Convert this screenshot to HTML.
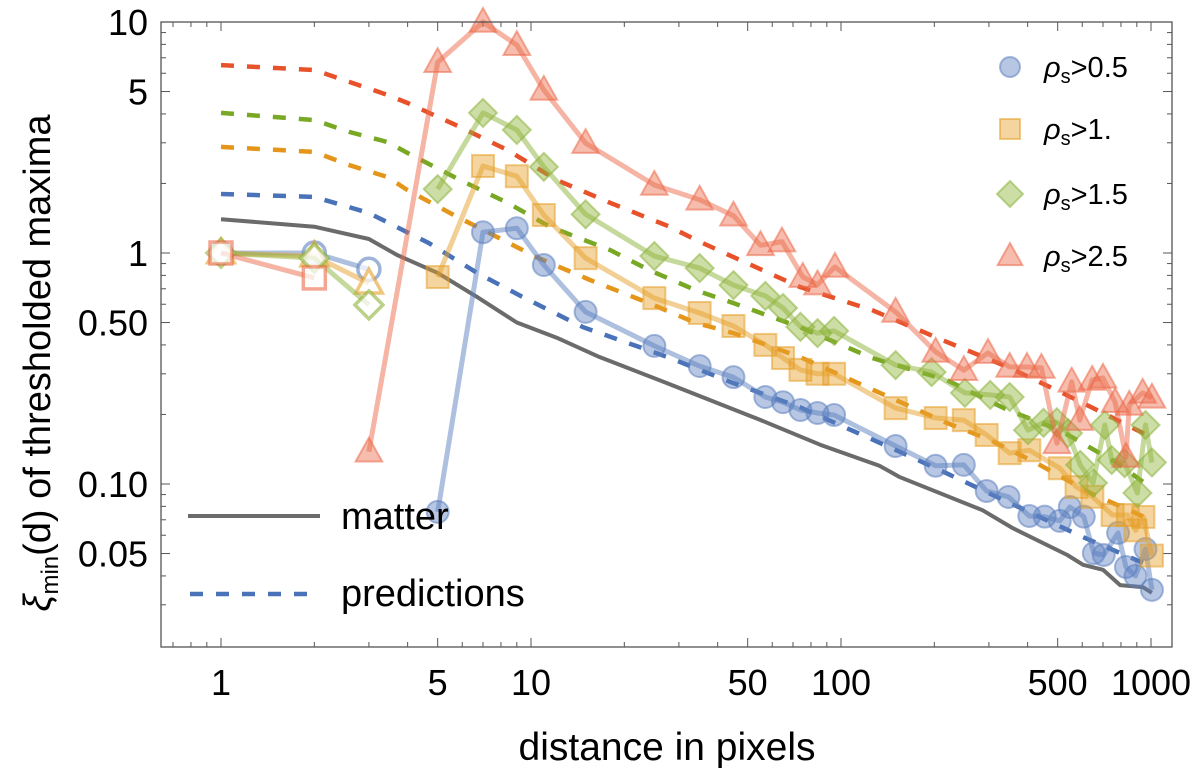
<!DOCTYPE html>
<html><head><meta charset="utf-8"><style>
html,body{margin:0;padding:0;background:#fff;}
svg{display:block;font-family:"Liberation Sans",sans-serif;}
</style></head><body>
<svg id="chart" width="1200" height="775" viewBox="0 0 1200 775" xmlns="http://www.w3.org/2000/svg">
<g id="grid-ticks"></g>
<g id="plot"></g>
<g id="axes"></g>
<text x="667" y="760" font-size="39" text-anchor="middle">distance in pixels</text>
<text transform="translate(50,363) rotate(-90)" font-size="38" text-anchor="middle"><tspan font-style="italic">ξ</tspan><tspan font-size="24" dy="8">min</tspan><tspan dy="-8">(d) of thresholded maxima</tspan></text>
<g id="legend"></g>
</svg>
<script>
// ---- data ----
const matterD = [1,2,3,3.7,5,6.7,9,12.1,16.6,27.5,54.6,85.6,133,155,286,358,537,604,700,795,940,1007];
const matterV = [1.40,1.30,1.15,0.98,0.82,0.645,0.50,0.43,0.355,0.273,0.19,0.148,0.12,0.107,0.077,0.0644,0.0493,0.0447,0.0425,0.0365,0.0358,0.0338];

const predBlueD = [1,2,3,4.7,6.7,9.4,14.7,27.5,45,73.6,144,208,345,604,940,1000];
const predBlueV = [1.8,1.75,1.49,1.1,0.82,0.645,0.478,0.355,0.273,0.215,0.144,0.115,0.0836,0.0589,0.0456,0.044];
const predOrangeD = [1,2,2.6,3.45,4,5.8,7.8,10.4,15.5,24,34,45,73.6,158,219,303,428,636,995];
const predOrangeV = [2.88,2.74,2.4,2.13,1.87,1.43,1.17,0.96,0.764,0.607,0.498,0.45,0.355,0.224,0.184,0.155,0.123,0.0915,0.0701];
const predGreenD = [1,2,2.6,3.45,4,5.9,8.4,11.5,18,24,34,45,73.6,126,219,345,508,778,995];
const predGreenV = [4.04,3.76,3.34,3.02,2.71,2.07,1.65,1.30,1.03,0.844,0.69,0.607,0.478,0.351,0.282,0.209,0.171,0.123,0.097];
const predRedD = [1,2,2.6,3.45,4,5.9,8.4,12.1,18,28,34,45,73.6,126,212,345,517,700,995];
const predRedV = [6.51,6.2,5.5,4.83,4.46,3.51,2.79,2.07,1.65,1.30,1.14,0.96,0.713,0.566,0.42,0.321,0.248,0.203,0.16];

const openD = [1,2,3];
const openBlueV = [1.0,1.0,0.85];
const openOrangeV = [1.0,0.97,0.74];
const openGreenV = [1.0,0.95,0.596];
const openRedD = [1,2];
const openRedV = [1.0,0.78];

const blueD = [5,7,9,11,15,25,35,45,57,65,74,84,95,150,202,249,295,347,405,454,508,547,607,654,704,783,830,891,960,1007];
const blueV = [0.0757,1.23,1.28,0.887,0.556,0.396,0.324,0.29,0.238,0.226,0.209,0.203,0.199,0.146,0.12,0.121,0.0933,0.0879,0.0727,0.0722,0.0692,0.0795,0.0722,0.0502,0.0493,0.0614,0.0437,0.040,0.0523,0.0348];
const orangeD = [5,7,9,11,15,25,35,45,57,65,74,84,95,150,202,249,295,350,405,508,575,647,752,842,891,945,1007];
const orangeV = [0.787,2.38,2.15,1.46,0.95,0.638,0.55,0.483,0.40,0.351,0.312,0.30,0.30,0.213,0.193,0.189,0.163,0.136,0.14,0.117,0.097,0.088,0.0734,0.0734,0.063,0.072,0.049];
const greenD = [5,7,9,11,15,25,35,45,57,65,74,84,95,150,196,251,303,350,401,450,497,540,591,650,710,747,822,904,960,1007];
const greenV = [1.89,4.04,3.41,2.36,1.47,0.97,0.86,0.726,0.652,0.578,0.479,0.45,0.46,0.327,0.305,0.248,0.243,0.238,0.171,0.184,0.185,0.166,0.121,0.101,0.18,0.127,0.123,0.0914,0.18,0.124];
const redD = [3,5,7,9,11,15,25,35,45,55,64.5,75.3,84,95.6,150,202,249,298,350,398,443,497,555,589,646,700,766,830,851,940,1007];
const redV = [0.138,6.7,10.0,7.94,5.08,2.99,1.97,1.70,1.45,1.08,1.12,0.787,0.73,0.87,0.556,0.373,0.311,0.369,0.321,0.321,0.318,0.15,0.277,0.189,0.282,0.288,0.226,0.131,0.22,0.248,0.236];

const xTickVals = [1,5,10,50,100,500,1000];
const xTickLabels = ["1","5","10","50","100","500","1000"];
const yTickVals = [10,5,1,0.5,0.1,0.05];
const yTickLabels = ["10","5","1","0.50","0.10","0.05"];

// ---- scales ----
const L=161,R=1172,T=22,B=647;
function X(d){return 221+310*Math.log10(d);}
function Y(v){return 253-231*Math.log10(v);}
const NS="http://www.w3.org/2000/svg";
function mk(tag,attrs,parent){const e=document.createElementNS(NS,tag);for(const k in attrs)e.setAttribute(k,attrs[k]);parent.appendChild(e);return e;}

const ticks=document.getElementById('grid-ticks');
const axes=document.getElementById('axes');
const plot=document.getElementById('plot');
const legend=document.getElementById('legend');

const fr=mk('rect',{x:L,y:T,width:R-L,height:B-T,fill:'none',stroke:'#555','stroke-width':1.3},axes);



for(let e=-1;e<=3;e++){for(let m=1;m<10;m++){const d=m*Math.pow(10,e);const x=X(d);if(x<L+2||x>R-2)continue;const len=(m===1||m===5)?9:5;
  const t1=mk('line',{x1:x,x2:x,y1:B,y2:B-len,stroke:'#555','stroke-width':1},ticks);
  
  
  const t2=mk('line',{x1:x,x2:x,y1:T,y2:T+len,stroke:'#555','stroke-width':1},ticks);
  
  }}
for(let e=-2;e<=1;e++){for(let m=1;m<10;m++){const v=m*Math.pow(10,e);const y=Y(v);if(y<T-1||y>B-2)continue;const len=(m===1||m===5)?9:5;
  const t1=mk('line',{x1:L,x2:L+len,y1:y,y2:y,stroke:'#555','stroke-width':1},ticks);
  
  
  const t2=mk('line',{x1:R,x2:R-len,y1:y,y2:y,stroke:'#555','stroke-width':1},ticks);
  
  }}
xTickVals.forEach((v,i)=>{const t=mk('text',{x:X(v),y:695,'font-size':36,'text-anchor':'middle'},axes);t.textContent=xTickLabels[i];
  
  });
yTickVals.forEach((v,i)=>{const t=mk('text',{x:148,y:Y(v)+13,'font-size':36,'text-anchor':'end'},axes);t.textContent=yTickLabels[i];
  
  });

function pathOf(ds,vs){return ds.map((d,i)=>(i?'L':'M')+X(d).toFixed(1)+','+Y(vs[i]).toFixed(1)).join(' ');}

const mp=mk('path',{d:pathOf(matterD,matterV),fill:'none',stroke:'#6b6b6b','stroke-width':4,'stroke-linejoin':'round'},plot);



[[predBlueD,predBlueV,'#4a72b8','prediction-0.5'],[predOrangeD,predOrangeV,'#e4961a','prediction-1'],[predGreenD,predGreenV,'#79a824','prediction-1.5'],[predRedD,predRedV,'#e8522a','prediction-2.5']].forEach(s=>{
  const p=mk('path',{d:pathOf(s[0],s[1]),fill:'none',stroke:s[2],'stroke-width':4.5,'stroke-dasharray':'13,13'},plot);
  
  });

function marker(shape,x,y,col,filled,parent,sz){
  const fill=filled?col:'#fff',fo=filled?0.45:0.7;
  let e;
  if(shape==='circle') e=mk('circle',{cx:x,cy:y,r:sz||11},parent);
  else if(shape==='square'){const s=sz||11;e=mk('rect',{x:x-s,y:y-s,width:2*s,height:2*s},parent);}
  else if(shape==='diamond'){const s=sz||14;e=mk('polygon',{points:`${x},${y-s} ${x+s},${y} ${x},${y+s} ${x-s},${y}`},parent);}
  else {const s=sz||14;e=mk('polygon',{points:`${x},${y-s} ${x+s*0.95},${y+s*0.7} ${x-s*0.95},${y+s*0.7}`},parent);}
  e.setAttribute('fill',fill);e.setAttribute('fill-opacity',fo);e.setAttribute('stroke',col);e.setAttribute('stroke-opacity',filled?0.55:0.6);e.setAttribute('stroke-width',filled?2:3.5);
  return e;
}
function series(ds,vs,col,shape,filled,name){
  const g=mk('g',{},plot);
  
  
  mk('path',{d:pathOf(ds,vs),fill:'none',stroke:col,'stroke-opacity':0.5,'stroke-width':5,'stroke-linejoin':'round'},g);
  ds.forEach((d,i)=>{const m=marker(shape,X(d),Y(vs[i]),col,filled,g);
    
    });
}
const cB='#5e81c0',cO='#e6a02a',cG='#8db33a',cR='#ec6a4a';
series(openD,openBlueV,cB,'circle',false,'open-series-0.5');
series(openD,openOrangeV,cO,'triangle',false,'open-series-1');
series(openD,openGreenV,cG,'diamond',false,'open-series-1.5');
series(openRedD,openRedV,cR,'square',false,'open-series-2.5');
series(blueD,blueV,cB,'circle',true,'series-0.5');
series(orangeD,orangeV,cO,'square',true,'series-1');
series(greenD,greenV,cG,'diamond',true,'series-1.5');
series(redD,redV,cR,'triangle',true,'series-2.5');

const items=[['circle',cB,'0.5',67],['square',cO,'1.',129],['diamond',cG,'1.5',194],['triangle',cR,'2.5',256]];
items.forEach(it=>{const g=mk('g',{},legend);
  
  
  marker(it[0],1010,it[3],it[1],true,g,it[0]==='circle'?10:(it[0]==='square'?10:13));
  const t=mk('text',{x:1044,y:it[3]+10,'font-size':29},g);
  t.innerHTML='<tspan font-style="italic">ρ</tspan><tspan font-size="20" dy="6">s</tspan><tspan dy="-6">&gt;'+it[2]+'</tspan>';});
const g1=mk('g',{},legend);


mk('line',{x1:188,x2:320,y1:516,y2:516,stroke:'#6b6b6b','stroke-width':4},g1);
const mt=mk('text',{x:341,y:529,'font-size':38},g1);mt.textContent='matter';
const g2=mk('g',{},legend);


mk('line',{x1:190,x2:320,y1:594,y2:594,stroke:'#4a72b8','stroke-width':4.5,'stroke-dasharray':'13,13'},g2);
const pt=mk('text',{x:341,y:606,'font-size':38},g2);pt.textContent='predictions';
</script>
</body></html>
